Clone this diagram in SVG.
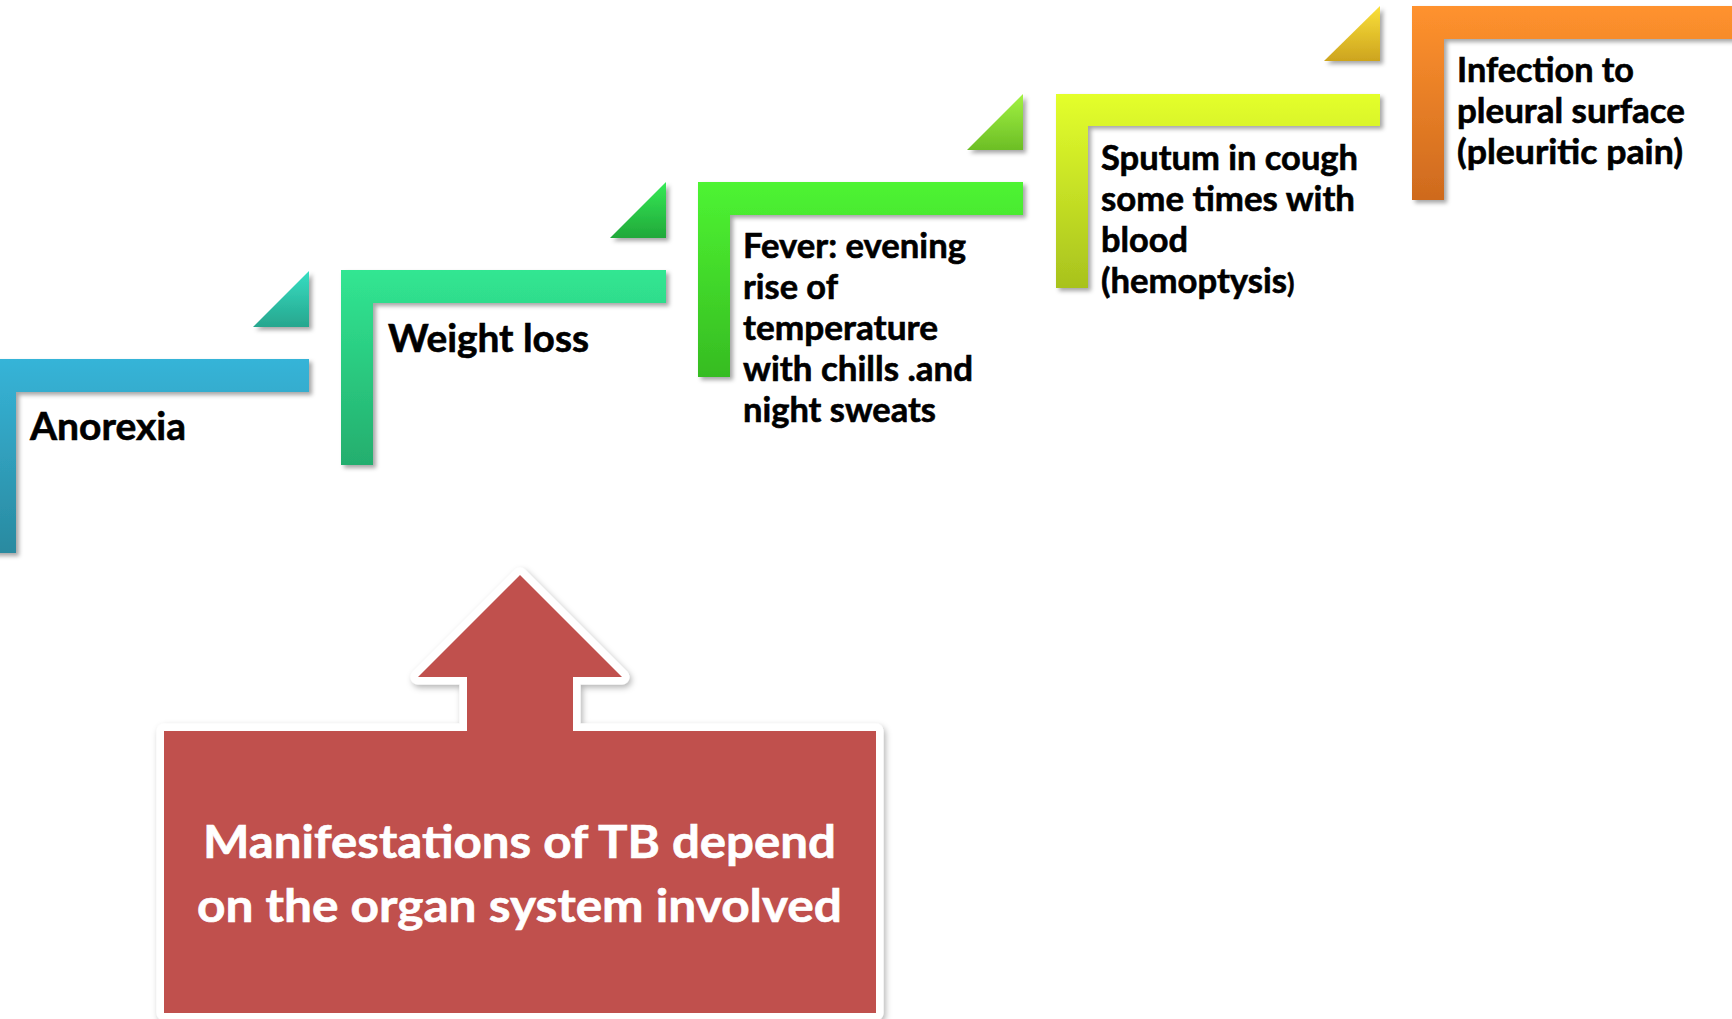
<svg xmlns="http://www.w3.org/2000/svg" width="1732" height="1019" viewBox="0 0 1732 1019">
<defs>
<filter id="sh" x="-10%" y="-10%" width="130%" height="130%">
<feDropShadow dx="3" dy="3" stdDeviation="2" flood-color="#000" flood-opacity="0.35"/>
</filter>
<filter id="shc" x="-10%" y="-10%" width="130%" height="130%">
<feDropShadow dx="2" dy="3" stdDeviation="3" flood-color="#000" flood-opacity="0.3"/>
</filter>
<linearGradient id="g1" x1="0" y1="0" x2="0" y2="1"><stop offset="0" stop-color="#36B4D8"/><stop offset="1" stop-color="#2A8AA0"/></linearGradient>
<linearGradient id="t1" x1="0" y1="0" x2="0" y2="1"><stop offset="0" stop-color="#36DEC2"/><stop offset="1" stop-color="#27A68E"/></linearGradient>
<linearGradient id="g2" x1="0" y1="0" x2="0" y2="1"><stop offset="0" stop-color="#31E692"/><stop offset="1" stop-color="#24AE6E"/></linearGradient>
<linearGradient id="t2" x1="0" y1="0" x2="0" y2="1"><stop offset="0" stop-color="#35EA56"/><stop offset="1" stop-color="#21A83A"/></linearGradient>
<linearGradient id="g3" x1="0" y1="0" x2="0" y2="1"><stop offset="0" stop-color="#4EF432"/><stop offset="1" stop-color="#36BC22"/></linearGradient>
<linearGradient id="t3" x1="0" y1="0" x2="0" y2="1"><stop offset="0" stop-color="#A2F242"/><stop offset="1" stop-color="#6CBE26"/></linearGradient>
<linearGradient id="g4" x1="0" y1="0" x2="0" y2="1"><stop offset="0" stop-color="#E4FF2C"/><stop offset="1" stop-color="#A8C21E"/></linearGradient>
<linearGradient id="t4" x1="0" y1="0" x2="0" y2="1"><stop offset="0" stop-color="#FAE03A"/><stop offset="1" stop-color="#CDA41E"/></linearGradient>
<linearGradient id="g5" x1="0" y1="0" x2="0" y2="1"><stop offset="0" stop-color="#FF922E"/><stop offset="1" stop-color="#CE6A1E"/></linearGradient>
</defs>
<style>
.lbl{font-family:Lato,"Open Sans","Liberation Sans",sans-serif;font-weight:bold;fill:#000;stroke:#000;stroke-width:0.6px;}
.big{font-size:39px;}
.mid{font-size:34px;}
.cal{font-family:Lato,"Open Sans","Liberation Sans",sans-serif;font-weight:bold;font-size:45px;fill:#fff;stroke:#fff;stroke-width:0.6px;}
</style>

<g id="connectors"></g>

<g id="step1">
<path d="M-16,359 H309 V392 H16 V553 H-16 Z" fill="url(#g1)" filter="url(#sh)"/>
<text class="lbl big" x="30" y="440" textLength="156" lengthAdjust="spacingAndGlyphs">Anorexia</text>
</g>
<g id="tri1"><path d="M309,271 V327 H253 Z" fill="url(#t1)" filter="url(#sh)"/></g>

<g id="step2">
<path d="M341,270 H666 V303 H373 V465 H341 Z" fill="url(#g2)" filter="url(#sh)"/>
<text class="lbl big" x="388" y="352" textLength="201" lengthAdjust="spacingAndGlyphs">Weight loss</text>
</g>
<g id="tri2"><path d="M666,182 V238 H610 Z" fill="url(#t2)" filter="url(#sh)"/></g>

<g id="step3">
<path d="M698,182 H1023 V215 H730 V377 H698 Z" fill="url(#g3)" filter="url(#sh)"/>
<text class="lbl mid" x="743" y="258" textLength="223" lengthAdjust="spacingAndGlyphs">Fever: evening</text>
<text class="lbl mid" x="743" y="299" textLength="95" lengthAdjust="spacingAndGlyphs">rise of</text>
<text class="lbl mid" x="743" y="340" textLength="195" lengthAdjust="spacingAndGlyphs">temperature</text>
<text class="lbl mid" x="743" y="381" textLength="230" lengthAdjust="spacingAndGlyphs">with chills .and</text>
<text class="lbl mid" x="743" y="422" textLength="193" lengthAdjust="spacingAndGlyphs">night sweats</text>
</g>
<g id="tri3"><path d="M1023,94 V150 H967 Z" fill="url(#t3)" filter="url(#sh)"/></g>

<g id="step4">
<path d="M1056,94 H1380 V126 H1088 V288 H1056 Z" fill="url(#g4)" filter="url(#sh)"/>
<text class="lbl mid" x="1101" y="170" textLength="257" lengthAdjust="spacingAndGlyphs">Sputum in cough</text>
<text class="lbl mid" x="1101" y="211" textLength="254" lengthAdjust="spacingAndGlyphs">some times with</text>
<text class="lbl mid" x="1101" y="252" textLength="87" lengthAdjust="spacingAndGlyphs">blood</text>
<text class="lbl mid" x="1101" y="293"><tspan textLength="186" lengthAdjust="spacingAndGlyphs">(hemoptysis</tspan><tspan font-size="27">)</tspan></text>
</g>
<g id="tri4"><path d="M1380,6 V61 H1324 Z" fill="url(#t4)" filter="url(#sh)"/></g>

<g id="step5">
<path d="M1412,6 H1740 V39 H1444 V200 H1412 Z" fill="url(#g5)" filter="url(#sh)"/>
<text class="lbl mid" x="1457" y="82" textLength="177" lengthAdjust="spacingAndGlyphs">Infection to</text>
<text class="lbl mid" x="1457" y="123" textLength="228" lengthAdjust="spacingAndGlyphs">pleural surface</text>
<text class="lbl mid" x="1457" y="164" textLength="226" lengthAdjust="spacingAndGlyphs">(pleuritic pain)</text>
</g>

<g id="callout">
<path d="M164,731 H467 V677 H418 L520,575 L622,677 H573 V731 H876 V1013 H164 Z" fill="#fff" stroke="#fff" stroke-width="15" stroke-linejoin="round" filter="url(#shc)"/>
<path d="M164,731 H467 V677 H418 L520,575 L622,677 H573 V731 H876 V1013 H164 Z" fill="#C0504D"/>
<text class="cal" x="203" y="858" textLength="633" lengthAdjust="spacingAndGlyphs">Manifestations of TB depend</text>
<text class="cal" x="197" y="922" textLength="645" lengthAdjust="spacingAndGlyphs">on the organ system involved</text>
</g>
</svg>
